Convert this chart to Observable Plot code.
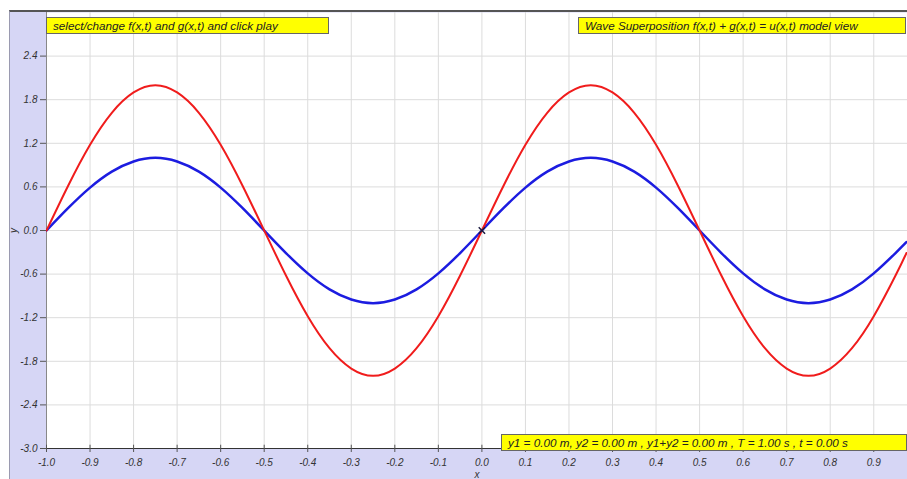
<!DOCTYPE html>
<html>
<head>
<meta charset="utf-8">
<script src="https://cdn.jsdelivr.net/npm/d3@7"></script>
<script src="https://cdn.jsdelivr.net/npm/@observablehq/plot@0.6"></script>
<style>
  html, body { margin: 0; padding: 0; background: #fff; overflow: hidden; }
  #wrap { position: relative; width: 907px; height: 479px; background: #fff; overflow: hidden; }
  #panel { position: absolute; left: 9px; top: 10px; right: 0; bottom: 0; background: #d6d6f5;
           border-top: 2px solid #555; border-left: 1px solid #9a9ab0; }
  #chart { position: absolute; left: 0; top: 0; }
  .box { position: absolute; height: 17px; background: #ffff00; border: 1px solid #666;
         font: italic 11.7px "Liberation Sans", Arial, sans-serif; color: #222; line-height: 15px;
         padding-left: 6px; box-sizing: border-box; white-space: nowrap; overflow: hidden; z-index: 2; }
</style>
</head>
<body>
<div id="wrap">
  <div id="panel"></div>
  <div id="chart"></div>
  <div class="box" id="b1" style="left:46px; top:17px; width:283px;"></div>
  <div class="box" id="b2" style="left:578px; top:17px; width:328px;"></div>
  <div class="box" id="b3" style="left:501px; top:434px; width:406px;"></div>
</div>
<script>
// ---- data ----
const xValues = [-1.00,-0.95,-0.90,-0.85,-0.80,-0.75,-0.70,-0.65,-0.60,-0.55,
                 -0.50,-0.45,-0.40,-0.35,-0.30,-0.25,-0.20,-0.15,-0.10,-0.05,
                  0.00, 0.05, 0.10, 0.15, 0.20, 0.25, 0.30, 0.35, 0.40, 0.45,
                  0.50, 0.55, 0.60, 0.65, 0.70, 0.75, 0.80, 0.85, 0.90, 0.95, 0.975];
// blue wave (amplitude 1)
const blueWave = [0.00, 0.31, 0.59, 0.81, 0.95, 1.00, 0.95, 0.81, 0.59, 0.31,
                  0.00,-0.31,-0.59,-0.81,-0.95,-1.00,-0.95,-0.81,-0.59,-0.31,
                  0.00, 0.31, 0.59, 0.81, 0.95, 1.00, 0.95, 0.81, 0.59, 0.31,
                  0.00,-0.31,-0.59,-0.81,-0.95,-1.00,-0.95,-0.81,-0.59,-0.31,-0.16];
// red wave (amplitude 2)
const redWave  = [0.00, 0.62, 1.18, 1.62, 1.90, 2.00, 1.90, 1.62, 1.18, 0.62,
                  0.00,-0.62,-1.18,-1.62,-1.90,-2.00,-1.90,-1.62,-1.18,-0.62,
                  0.00, 0.62, 1.18, 1.62, 1.90, 2.00, 1.90, 1.62, 1.18, 0.62,
                  0.00,-0.62,-1.18,-1.62,-1.90,-2.00,-1.90,-1.62,-1.18,-0.62,-0.31];
const xTicks = [-1.0,-0.9,-0.8,-0.7,-0.6,-0.5,-0.4,-0.3,-0.2,-0.1,0.0,0.1,0.2,0.3,0.4,0.5,0.6,0.7,0.8,0.9];
const yTicks = [-3.0,-2.4,-1.8,-1.2,-0.6,0.0,0.6,1.2,1.8,2.4];
const marker = [{x: 0, y: 0}];
const topLeftText = "select/change f(x,t) and g(x,t) and click play";
const topRightText = "Wave Superposition f(x,t) + g(x,t) = u(x,t) model view";
const statusText = "y1 = 0.00 m, y2 = 0.00 m , y1+y2 = 0.00 m , T = 1.00 s , t = 0.00 s";

const blueData = xValues.map((x, i) => ({x, y: blueWave[i]}));
const redData = xValues.map((x, i) => ({x, y: redWave[i]}));

document.getElementById("b1").textContent = topLeftText;
document.getElementById("b2").textContent = topRightText;
document.getElementById("b3").textContent = statusText;

const chart = Plot.plot({
  width: 907,
  height: 479,
  marginLeft: 46,
  marginRight: 0,
  marginTop: 12,
  marginBottom: 31,
  style: {background: "transparent", fontFamily: "'Liberation Sans', Arial, sans-serif", fontSize: "10px", fontStyle: "italic", color: "#333"},
  x: {type: "linear", domain: [-1, 0.9775]},
  y: {type: "linear", domain: [-3, 3]},
  marks: [
    Plot.frame({fill: "white", stroke: null}),
    Plot.gridX(xTicks, {stroke: "#dcdcdc", strokeOpacity: 1}),
    Plot.gridY(yTicks, {stroke: "#dcdcdc", strokeOpacity: 1}),
    Plot.ruleX([-1], {stroke: "#888"}),
    Plot.ruleY([-3], {stroke: "#333"}),
    Plot.axisY(yTicks, {tickFormat: d => d.toFixed(1), tickSize: 6, tickPadding: 3, stroke: "#555",
      label: "y", labelAnchor: "center", labelOffset: 37, labelArrow: "none", fill: "#333"}),
    Plot.axisX(xTicks, {tickFormat: d => d.toFixed(1), tickSize: 4, tickPadding: 6, stroke: "#555",
      label: "x", labelAnchor: "center", labelOffset: 29, labelArrow: "none", fill: "#333"}),
    Plot.ruleX(xTicks, {y1: -3, y2: -2.955, stroke: "#555"}),
    Plot.line(blueData, {x: "x", y: "y", stroke: "#1c1ce0", strokeWidth: 2.5, curve: "natural", clip: true}),
    Plot.line(redData, {x: "x", y: "y", stroke: "#f01c1c", strokeWidth: 2, curve: "natural", clip: true}),
    Plot.dot(marker, {x: "x", y: "y", symbol: "times", r: 3, stroke: "#1a1a40", strokeWidth: 1.5})
  ]
});
document.getElementById("chart").appendChild(chart);
</script>
</body>
</html>
